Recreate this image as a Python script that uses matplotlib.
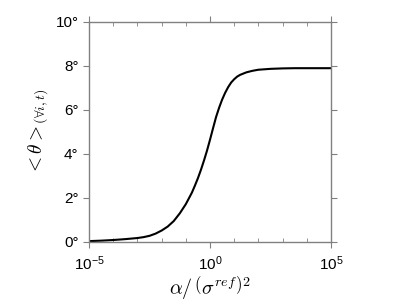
import numpy as np
import matplotlib
matplotlib.use("Agg")
import matplotlib.pyplot as plt
from matplotlib.ticker import FixedLocator, FuncFormatter

plt.rcParams['font.family'] = ['Liberation Sans', 'DejaVu Sans']
plt.rcParams['mathtext.fontset'] = 'custom'
plt.rcParams['mathtext.rm'] = 'Liberation Sans'
plt.rcParams['mathtext.it'] = 'Liberation Sans:italic'
plt.rcParams['axes.unicode_minus'] = False

# values (log10 of alpha, mean angle in degrees)
log_alpha = [-5, -4.5, -4, -3.5, -3, -2.75, -2.5, -2.25, -2, -1.75, -1.5,
             -1.25, -1, -0.875, -0.75, -0.625, -0.5, -0.375, -0.25, -0.125,
             0, 0.125, 0.25, 0.375, 0.5, 0.625, 0.75, 0.875, 1, 1.125, 1.25,
             1.5, 1.75, 2, 2.5, 3, 3.5, 4, 5]
theta = [0.04, 0.06, 0.09, 0.13, 0.18, 0.22, 0.28, 0.38, 0.52, 0.7, 0.95,
         1.3, 1.72, 1.98, 2.24, 2.56, 2.9, 3.28, 3.7, 4.15,
         4.65, 5.17, 5.68, 6.1, 6.47, 6.78, 7.04, 7.25, 7.4, 7.52, 7.6,
         7.71, 7.78, 7.83, 7.87, 7.89, 7.9, 7.9, 7.9]

xticks = [1e-5, 1e0, 1e5]
yticks = [0, 2, 4, 6, 8, 10]

fig = plt.figure(figsize=(4.07, 3.05), dpi=100)
ax = fig.add_axes([0.2187, 0.2066, 0.5946, 0.7213])

alpha = 10.0 ** np.array(log_alpha)
ax.plot(alpha, theta, color='black', lw=1.5, solid_joinstyle='round')

ax.set_xscale('log')
ax.set_xlim(1e-5, 1e5)
ax.set_ylim(0, 10)

ax.xaxis.set_major_locator(FixedLocator(xticks))
ax.xaxis.set_minor_locator(FixedLocator([10.0 ** k for k in range(-4, 5) if k != 0]))
ax.xaxis.set_major_formatter(FuncFormatter(
    lambda v, p: r'$\mathregular{10^{%d}}$' % int(round(np.log10(v)))))
ax.xaxis.set_minor_formatter(FuncFormatter(lambda v, p: ''))
ax.set_yticks(yticks)
ax.set_yticklabels(['%d°' % t for t in yticks])

for s in ax.spines.values():
    s.set_color('#808080')
    s.set_linewidth(1.0)

ax.tick_params(axis='x', which='major', direction='out', length=4,
               top=True, bottom=True, color='#808080', labelsize=11, pad=5)
ax.tick_params(axis='x', which='minor', direction='in', length=3,
               top=True, bottom=True, color='#808080')
ax.tick_params(axis='y', which='major', direction='out', length=4,
               left=True, right=True, color='#808080', labelsize=11)

ax.set_xlabel(r'$\alpha/\,\left(\sigma^{ref}\right)^2$', fontsize=14.5,
              math_fontfamily='cm', labelpad=1)
ax.set_ylabel(r'$<\theta>_{\!(\forall i,t)}$', fontsize=14,
              math_fontfamily='cm', labelpad=4)

fig.savefig('out.png', dpi=100)
